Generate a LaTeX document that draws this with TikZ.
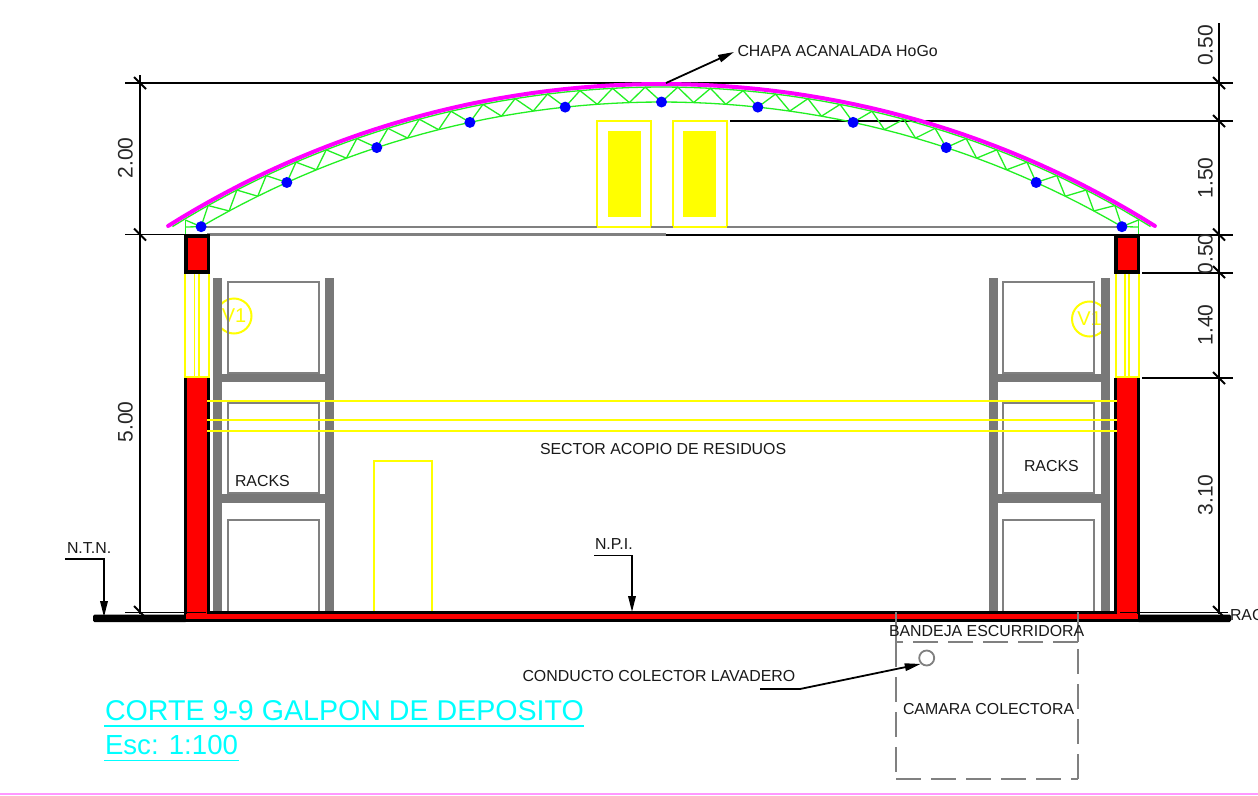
\documentclass[tikz,border=0pt]{standalone}
\usepackage{fontspec}
\setmainfont{Liberation Sans}
\usetikzlibrary{arrows.meta}
\definecolor{rackgray}{HTML}{787878}
\definecolor{boxgray}{HTML}{808080}
\definecolor{trussgreen}{HTML}{22F022}
\definecolor{roofpink}{HTML}{FF00FF}
\definecolor{pagepink}{HTML}{FF99FF}
\definecolor{yell}{HTML}{FFFF00}
\definecolor{titlecyan}{HTML}{00FFFF}
\tikzset{
  lbl/.style={anchor=base west,inner sep=0pt,outer sep=0pt,text=black!90,font=\fontsize{15.9}{16}\selectfont},
  dimlbl/.style={anchor=base,rotate=90,inner sep=0pt,outer sep=0pt,text=black!85,font=\fontsize{21}{22}\selectfont},
  dimln/.style={black,line width=1.8pt},
  lead/.style={black,line width=1.8pt},
  leadarrow/.style={black,line width=1.8pt,-{Triangle[length=16pt,width=7.5pt]}},
  rackbar/.style={fill=rackgray,draw=none},
  rackbox/.style={draw=boxgray,line width=2pt},
  ywin/.style={draw=yell,line width=2pt},
  truss/.style={trussgreen,line width=1.3pt},
  dot/.style={circle,fill=blue,inner sep=0pt,minimum size=11pt},
  dashbox/.style={draw=boxgray,line width=2pt,dash pattern=on 25pt off 10pt},
  title/.style={anchor=base west,inner sep=0pt,outer sep=0pt,text=titlecyan,font=\fontsize{28.6}{30}\selectfont},
  vlbl/.style={inner sep=0pt,text=yell,font=\fontsize{20}{20}\selectfont},
  vcirc/.style={circle,draw=yell,line width=2pt,minimum size=35pt,inner sep=0pt},
}
\begin{document}
\begin{tikzpicture}[x=1pt,y=-1pt]
\useasboundingbox (0,0) rectangle (1258,795);
\fill[white] (0,0) rectangle (1258,795);
% page line
\coordinate (pl) at (0,794); \coordinate (pr) at (1258,794);
\draw[pagepink,line width=1.2pt] (pl) -- (pr);

% level lines
\coordinate (t0) at (125,83); \coordinate (t1) at (1233,83);
\draw[dimln] (t0) -- (t1);
\coordinate (q0) at (730,121); \coordinate (q1) at (1233,121);
\draw[black,line width=2pt] (q0) -- (q1);
\coordinate (l0) at (125,234.5); \coordinate (l1) at (207,234.5); \coordinate (l2) at (666,234.5); \coordinate (l3) at (1233,234.5);
\draw[dimln] (l0) -- (l1);
\draw[boxgray,line width=2.4pt] (l1) -- (l2);
\draw[black,line width=2pt] (l2) -- (l3);
\coordinate (r0) at (1142,272.5); \coordinate (r1) at (1233,272.5);
\draw[black,line width=2pt] (r0) -- (r1);
\coordinate (s0) at (1142,378); \coordinate (s1) at (1233,378);
\draw[black,line width=2pt] (s0) -- (s1);
\coordinate (f0) at (125,612.5); \coordinate (f1) at (186,612.5);
\coordinate (f2) at (1138,612.5); \coordinate (f3) at (1228,612.5);
\draw[dimln] (f0) -- (f1);
\draw[dimln] (f2) -- (f3);

% dimension lines
\coordinate (da) at (140,75); \coordinate (db) at (140,614);
\draw[dimln] (da) -- (db);
\coordinate (dc) at (1219,23); \coordinate (dd) at (1219,614);
\draw[dimln] (dc) -- (dd);
\foreach \yy in {83,234.5,612}{
  \coordinate (ta) at (134,\yy-6); \coordinate (tb) at (146,\yy+6);
  \draw[dimln] (ta) -- (tb);
}
\foreach \yy in {83,121,234.5,272,378,612}{
  \coordinate (ta) at (1213,\yy-6); \coordinate (tb) at (1225,\yy+6);
  \draw[dimln] (ta) -- (tb);
}
\node[dimlbl] (d1) at (1212.5,45.5) {0.50};
\node[dimlbl] (d2) at (1212.5,178) {1.50};
\node[dimlbl] (d3) at (1212.5,254) {0.50};
\node[dimlbl] (d4) at (1212.5,325) {1.40};
\node[dimlbl] (d5) at (1212.5,495) {3.10};
\node[dimlbl] (d6) at (132.5,158) {2.00};
\node[dimlbl] (d7) at (132.5,422) {5.00};

% V1 marks (behind the racks)
\node[vcirc] (v1a) at (234,316) {};
\node[vlbl] (v1at) at (234,316) {V1};
\node[vcirc] (v1b) at (1089.5,319) {};
\node[vlbl] (v1bt) at (1089.5,319) {V1};

% rack boxes and frames
\foreach \xa/\xb/\pa/\pb/\pc/\pd in {227.5/319/213/222/325/334,1003/1094/988.7/997.5/1101/1110}{
  \draw[rackbox] (\xa,282) rectangle (\xb,373);
  \draw[rackbox] (\xa,402.5) rectangle (\xb,493);
  \draw[rackbox] (\xa,520) rectangle (\xb,612);
  \fill[rackbar] (\pa,278) rectangle (\pb,613);
  \fill[rackbar] (\pc,278) rectangle (\pd,613);
  \fill[rackbar] (\pb,374) rectangle (\pc,382);
  \fill[rackbar] (\pb,494) rectangle (\pc,502.5);
}

% door and roof-level openings
\draw[ywin] (374,461) rectangle (432,612.5);
\draw[ywin] (597,121) rectangle (651,227);
\draw[ywin] (673,121) rectangle (727,227);
\fill[yell] (608,131) rectangle (641,217);
\fill[yell] (683,131) rectangle (716,217);

% tie beam of the truss
\coordinate (tie0) at (200,227); \coordinate (tie1) at (1122,227);
\draw[boxgray,line width=2.4pt] (tie0) -- (tie1);
\draw[ywin] (597,227) -- (651,227);
\draw[ywin] (673,227) -- (727,227);

% truss chords
\draw[truss] plot[domain=-30.3:30.3,samples=61] ({661.5+912.6*sin(\x)},{1014.6-912.6*cos(\x)});
\draw[truss] plot[domain=-31.85:31.85,samples=65] ({661.5+926.8*sin(\x)},{1013.8-926.8*cos(\x)});
% truss web
\foreach \k in {-15,...,15}{
  \pgfmathsetmacro{\ang}{2.02*\k}
  \coordinate (b\k) at ({661.5+912.6*sin(\ang)},{1014.6-912.6*cos(\ang)});
}
\foreach \k in {-15,...,14}{
  \pgfmathsetmacro{\ang}{2.02*(\k+0.5)}
  \pgfmathtruncatemacro{\nx}{\k+1}
  \coordinate (u\k) at ({661.5+926.8*sin(\ang)},{1013.8-926.8*cos(\ang)});
  \draw[truss] (b\k) -- (u\k) -- (b\nx);
}
% truss ends
\coordinate (ela) at (185.3,220); \coordinate (elb) at (185.3,234);  \coordinate (elc) at (185.3,227);
\coordinate (era) at (1138.5,220); \coordinate (erb) at (1138.5,234); \coordinate (erc) at (1138.5,227);
\draw[truss] (ela) -- (elb); \draw[truss] (elc) -- (b-15); \draw[truss] (ela) -- (b-15);
\draw[truss] (era) -- (erb); \draw[truss] (erc) -- (b15);  \draw[truss] (era) -- (b15);
% blue points
\foreach \k in {-15,-12,...,15}{ \node[dot] (p\k) at (b\k) {}; }
% roof sheet
\draw[roofpink,line width=4pt,line cap=round] plot[domain=-32.1:32.1,samples=65] ({661.5+928.5*sin(\x)},{1012.5-928.5*cos(\x)});

% yellow openings above the walls
\foreach \xa/\xb/\xc/\xd in {185/194.5/199/209,1115.7/1125/1129/1139}{
  \draw[boxgray,line width=1.5pt] (\xa,377.5) -- (\xd,377.5);
  \draw[yell,line width=1.6pt] (\xa,273) rectangle (\xd,377);
  \draw[yell,line width=1.6pt] (\xb,273) -- (\xb,377);
  \draw[yell,line width=1.6pt] (\xc,273) -- (\xc,377);
}

% floor and walls
\fill[black,rounded corners=1.5pt] (93,614.5) rectangle (187,622);
\fill[black,rounded corners=1.5pt] (1137,614.5) rectangle (1231,622);
\fill[black] (184,378) rectangle (210,613);
\fill[black] (1114,378) rectangle (1140,622);
\fill[black] (184,610.5) rectangle (1140,622);
\fill[red] (187,378) rectangle (206.5,618.5);
\fill[red] (1117,378) rectangle (1137,618.5);
\fill[red] (186,614) rectangle (1138,618.5);
% upper wall blocks
\fill[black] (184,234) rectangle (210,273.5);
\fill[red] (187.5,237.5) rectangle (206.5,270);
\fill[black] (1114,234) rectangle (1140,273.5);
\fill[red] (1117.5,237.5) rectangle (1137,270);
\draw[black,line width=1.2pt] (f1) -- (206,612.5);
\draw[black,line width=1.2pt] (1120,612.5) -- (f2);

% long yellow lines
\foreach \yy in {400.7,420,431}{
  \coordinate (ya) at (207,\yy); \coordinate (yb) at (1116.5,\yy);
  \draw[yell,line width=1.8pt] (ya) -- (yb);
}

% leaders
\node[lbl] (chapa) at (737.5,56.5) {CHAPA ACANALADA HoGo};
\coordinate (chapafoot) at (666,83);
\coordinate (chapatip) at (734,52);
\draw[leadarrow] (chapafoot) -- (chapatip);
\node[lbl] (ntn) at (67,553) {N.T.N.};
\coordinate (ntna) at (65,559); \coordinate (ntnb) at (104,559); \coordinate (ntnc) at (104,617);
\draw[leadarrow] (ntna) -- (ntnb) -- (ntnc);
\node[lbl] (npi) at (595,549.5) {N.P.I.};
\coordinate (npia) at (594,555.5); \coordinate (npib) at (632,555.5); \coordinate (npic) at (632,612);
\draw[leadarrow] (npia) -- (npib) -- (npic);

% collector chamber
\coordinate (ca) at (896.3,612); \coordinate (cb) at (896.3,642.3); \coordinate (cc) at (896.3,778.7);
\coordinate (cd) at (1078,778.7); \coordinate (ce) at (1078,642.3); \coordinate (cf) at (1078,612);
\draw[boxgray,line width=2pt] (ca) -- (cb);
\draw[boxgray,line width=2pt] (cf) -- (ce);
\draw[dashbox] (cb) -- (cc);
\draw[dashbox] (cc) -- (cd);
\draw[dashbox] (cd) -- (ce);
\draw[dashbox] (ce) -- (cb);
\node[circle,draw=boxgray,line width=1.8pt,minimum size=15pt,inner sep=0pt] (pipe) at (926.7,658) {};
\node[lbl] (cond) at (522.5,681.5) {CONDUCTO COLECTOR LAVADERO};
\coordinate (conda) at (760,689); \coordinate (condb) at (800,689);
\draw[leadarrow] (conda) -- (condb) -- (pipe.south west);

% texts
\node[lbl] (sector) at (540,454) {SECTOR ACOPIO DE RESIDUOS};
\node[lbl] (racka) at (235,486) {RACKS};
\node[lbl] (rackb) at (1024,471) {RACKS};
\node[lbl] (bande) at (889,636.5) {BANDEJA ESCURRIDORA};
\node[lbl] (camara) at (903,714.5) {CAMARA COLECTORA};
\node[lbl] (rac) at (1230,620) {RAC};

% title
\node[title] (t1n) at (105,720) {CORTE 9-9 GALPON DE DEPOSITO};
\node[title,font=\fontsize{27.6}{30}\selectfont] (t2n) at (105,754.5) {Esc: 1:100};
\coordinate (ua) at (104,726); \coordinate (ub) at (583.5,726);
\draw[titlecyan,line width=1.3pt] (ua) -- (ub);
\coordinate (uc) at (104,760.5); \coordinate (ud) at (239,760.5);
\draw[titlecyan,line width=1.3pt] (uc) -- (ud);
\end{tikzpicture}
\end{document}
